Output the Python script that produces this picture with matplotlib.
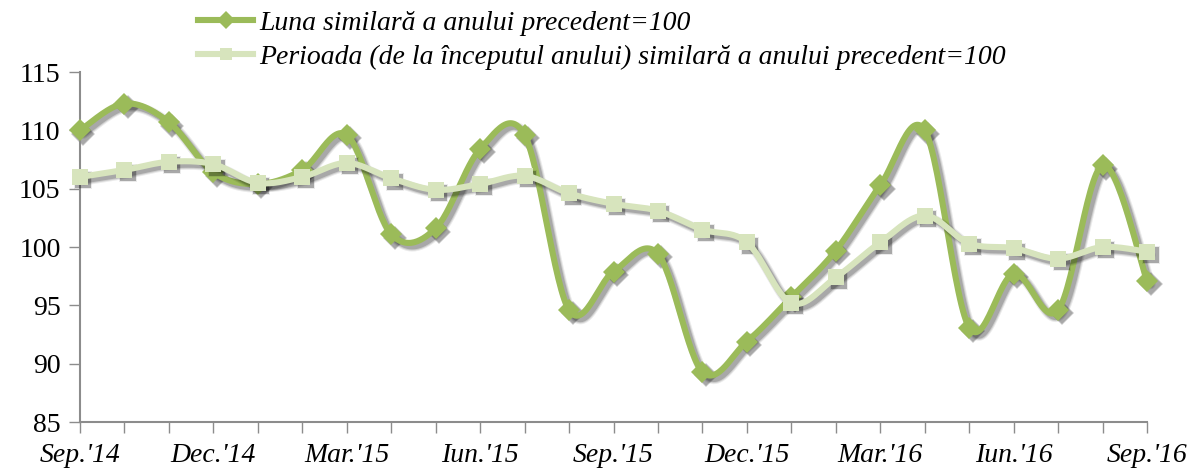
import matplotlib
matplotlib.use("Agg")
import matplotlib.pyplot as plt
import matplotlib.transforms as mtransforms
from matplotlib.lines import Line2D
import numpy as np

plt.rcParams["font.family"] = ["Liberation Serif", "DejaVu Serif"]

# ---- Data -------------------------------------------------------------------
MONTHS = ["Sep.'14", "Oct.'14", "Nov.'14", "Dec.'14", "Jan.'15", "Feb.'15",
          "Mar.'15", "Apr.'15", "May.'15", "Iun.'15", "Iul.'15", "Aug.'15",
          "Sep.'15", "Oct.'15", "Nov.'15", "Dec.'15", "Jan.'16", "Feb.'16",
          "Mar.'16", "Apr.'16", "May.'16", "Iun.'16", "Iul.'16", "Aug.'16",
          "Sep.'16"]
LUNA = [110.0, 112.3, 110.7, 106.4, 105.4, 106.6, 109.6, 101.1, 101.6, 108.4,
        109.6, 94.6, 97.9, 99.4, 89.3, 91.9, 95.7, 99.7, 105.3, 110.0,
        93.1, 97.7, 94.6, 107.0, 97.1]
PERIOADA = [106.0, 106.6, 107.3, 107.1, 105.5, 106.0, 107.2, 105.9, 104.9, 105.4,
            106.1, 104.6, 103.7, 103.1, 101.5, 100.4, 95.2, 97.4, 100.4, 102.7,
            100.3, 99.9, 99.0, 100.0, 99.6]
LBL_LUNA = "Luna similară a anului precedent=100"
LBL_PER = "Perioada (de la începutul anului) similară a anului precedent=100"

DARK = "#9BBB59"
LIGHT = "#D7E4BD"
AXIS = "#8C8C8C"
FS = 20


def smooth(y, n=30):
    # Excel-style smoothed line: Catmull-Rom segments as cubic Bezier
    y = np.asarray(y, float)
    x = np.arange(len(y), dtype=float)
    px = np.concatenate([[x[0]], x, [x[-1]]])
    py = np.concatenate([[y[0]], y, [y[-1]]])
    t = np.linspace(0, 1, n)[:, None]
    xs, ys = [], []
    for i in range(len(y) - 1):
        p0 = np.array([px[i + 1], py[i + 1]])
        p3 = np.array([px[i + 2], py[i + 2]])
        c1 = p0 + (p3 - np.array([px[i], py[i]])) / 6
        c2 = p3 - (np.array([px[i + 3], py[i + 3]]) - p0) / 6
        b = ((1 - t) ** 3) * p0 + 3 * ((1 - t) ** 2) * t * c1 \
            + 3 * (1 - t) * t ** 2 * c2 + t ** 3 * p3
        xs.append(b[:, 0])
        ys.append(b[:, 1])
    return np.concatenate(xs), np.concatenate(ys)


fig = plt.figure(figsize=(11.92, 4.70), dpi=100)
ax = fig.add_axes([0.0671, 0.1021, 0.8952, 0.7447])

# soft drop shadow: same marks shifted down-right in translucent grey
shadow_tr = mtransforms.offset_copy(ax.transData, fig=fig, x=2.5, y=-2.5,
                                    units="points")

idx = np.arange(len(MONTHS))
series = [(LUNA, DARK, "D", 11, 3), (PERIOADA, LIGHT, "s", 11, 5)]
for vals, col, mk, ms, z in series:
    sx, sy = smooth(vals)
    for lw_extra, a in [(3, 0.08), (1.5, 0.12), (0, 0.18)]:
        ax.plot(sx, sy, color="black", lw=4.4 + lw_extra, alpha=a,
                transform=shadow_tr, zorder=z - 1, clip_on=False,
                solid_capstyle="round")
        ax.plot(idx, vals, ls="none", marker=mk, ms=ms + lw_extra / 2,
                color="black", alpha=a, mew=0, transform=shadow_tr,
                zorder=z - 1, clip_on=False)
    ax.plot(sx, sy, color=col, lw=4.4, solid_capstyle="round", zorder=z,
            clip_on=False)
    ax.plot(idx, vals, ls="none", marker=mk, ms=ms, color=col, mew=0,
            zorder=z + 0.5, clip_on=False)

ax.set_xlim(0, len(MONTHS) - 1)
ax.set_ylim(85, 115)
ax.set_yticks(range(85, 116, 5))
ax.set_xticks(idx, minor=True)
ax.set_xticks(idx[::3])
ax.set_xticklabels(MONTHS[::3], fontstyle="italic")
ax.tick_params(axis="x", which="both", length=8, width=1, color=AXIS,
               labelsize=FS, pad=7)
ax.tick_params(axis="y", length=8, width=1, color=AXIS, labelsize=FS, pad=6)
for s in ("top", "right"):
    ax.spines[s].set_visible(False)
for s in ("left", "bottom"):
    ax.spines[s].set_color(AXIS)
    ax.spines[s].set_linewidth(1.5)

handles = [
    Line2D([], [], color=DARK, lw=4.4, marker="D", ms=9, mew=0),
    Line2D([], [], color=LIGHT, lw=4.4, marker="s", ms=9, mew=0),
]
fig.legend(handles, [LBL_LUNA, LBL_PER], loc="upper left",
           bbox_to_anchor=(0.166, 0.978), frameon=False,
           prop={"style": "italic", "size": FS}, handlelength=2.0,
           handletextpad=0.2, labelspacing=0.32, borderaxespad=0,
           borderpad=0)

fig.savefig("out.png", dpi=100, facecolor="white")
